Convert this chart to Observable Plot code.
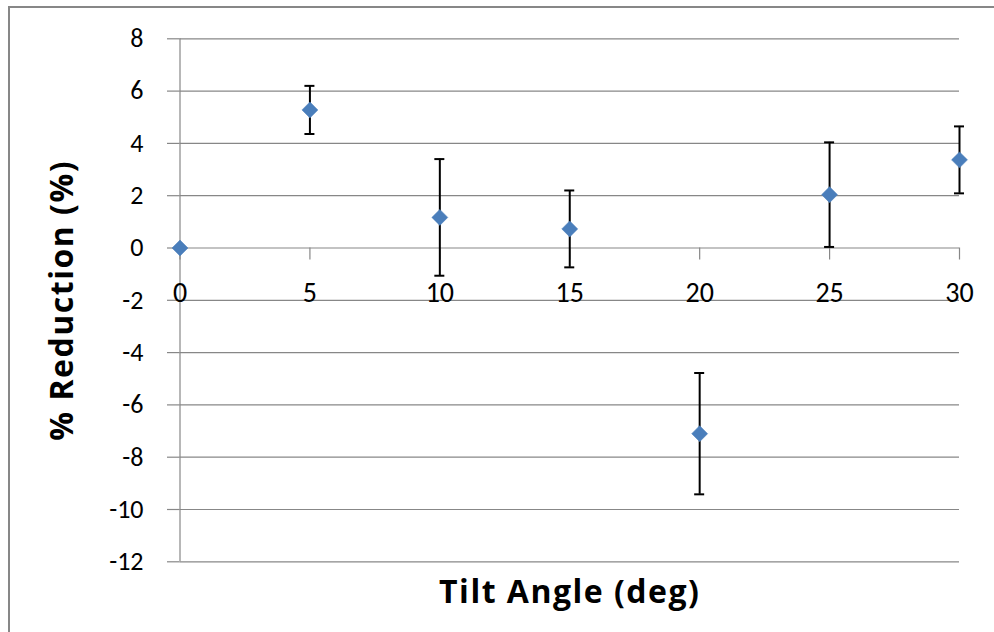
<!DOCTYPE html>
<html>
<head>
<meta charset="utf-8">
<script src="https://cdn.jsdelivr.net/npm/d3@7"></script>
<script src="https://cdn.jsdelivr.net/npm/@observablehq/plot@0.6"></script>
<style>
  html, body { margin: 0; padding: 0; background: #fff; overflow: hidden; }
  #wrap { position: relative; width: 994px; height: 632px; }
  #frame { position: absolute; left: 8px; top: 6px; width: 1100px; height: 700px;
           border-left: 2px solid #878787; border-top: 2px solid #878787; box-sizing: border-box; }
  #chart { position: absolute; left: 0; top: 0; }
</style>
</head>
<body>
<div id="wrap"><div id="frame"></div><div id="chart"></div></div>
<script>
const angles = [0, 5, 10, 15, 20, 25, 30];
const reduction = [0, 5.28, 1.17, 0.73, -7.1, 2.04, 3.37];
const errors = [0, 0.92, 2.23, 1.47, 2.32, 2.0, 1.28];
const xTicks = [0, 5, 10, 15, 20, 25, 30];
const yTicks = [-12, -10, -8, -6, -4, -2, 0, 2, 4, 6, 8];
const xTitle = "Tilt Angle (deg)";
const yTitle = "% Reduction (%)";

const data = angles.map((a, i) => ({angle: a, value: reduction[i], lo: reduction[i] - errors[i], hi: reduction[i] + errors[i], err: errors[i]}));
const withErr = data.filter(d => d.err > 0);

const font = "Carlito, Lato, 'Open Sans', sans-serif";
const titleFont = "'Open Sans', Lato, sans-serif";
const gray = "#878787";

const chart = Plot.plot({
  width: 994,
  height: 632,
  marginLeft: 179.5,
  marginRight: 35,
  marginTop: 38.3,
  marginBottom: 70.7,
  style: {fontFamily: font, background: "transparent", color: "#000"},
  x: {domain: [0, 30], axis: null},
  y: {domain: [-12, 8]},
  marks: [
    Plot.gridY(yTicks, {stroke: gray, strokeOpacity: 1, strokeWidth: 1.2}),
    Plot.axisY(yTicks, {tickSize: 12.5, tickPadding: 24, stroke: gray, strokeWidth: 1.2, fontSize: 26, label: null, tickFormat: d => d < 0 ? "-" + Math.abs(d) : String(d)}),
    Plot.ruleX([0], {stroke: gray, strokeWidth: 1.2}),
    Plot.ruleX(xTicks, {x: d => d, y1: 0, y2: 0, insetBottom: -12, stroke: gray, strokeWidth: 1.2}),
    Plot.text(xTicks, {x: d => d, y: 0, dy: 45, text: d => String(d), fontSize: 28, fill: "#000"}),
    Plot.ruleX(withErr, {x: "angle", y1: "lo", y2: "hi", stroke: "#000", strokeWidth: 2}),
    Plot.ruleY(withErr, {y: "hi", x1: "angle", x2: "angle", insetLeft: -5, insetRight: -5, stroke: "#000", strokeWidth: 2}),
    Plot.ruleY(withErr, {y: "lo", x1: "angle", x2: "angle", insetLeft: -5, insetRight: -5, stroke: "#000", strokeWidth: 2}),
    Plot.dot(data, {x: "angle", y: "value", symbol: "diamond2", r: 7.2, fill: "#4A7EBB", stroke: "#4A7EBB", strokeWidth: 0.5}),
    Plot.text([xTitle], {frameAnchor: "bottom", dy: 31, textAnchor: "middle", lineAnchor: "middle", text: d => d, fontSize: 32, fontWeight: "bold", fontFamily: titleFont, fill: "#000"}),
    Plot.text([yTitle], {frameAnchor: "left", dx: -117, rotate: -90, textAnchor: "middle", lineAnchor: "middle", text: d => d, fontSize: 32, fontWeight: "bold", fontFamily: titleFont, fill: "#000"})
  ]
});
d3.select(chart).selectAll("text").filter(function() { const t = this.textContent; return t === xTitle || t === yTitle; }).style("letter-spacing", "1.5px");
document.getElementById("chart").appendChild(chart);
</script>
</body>
</html>
